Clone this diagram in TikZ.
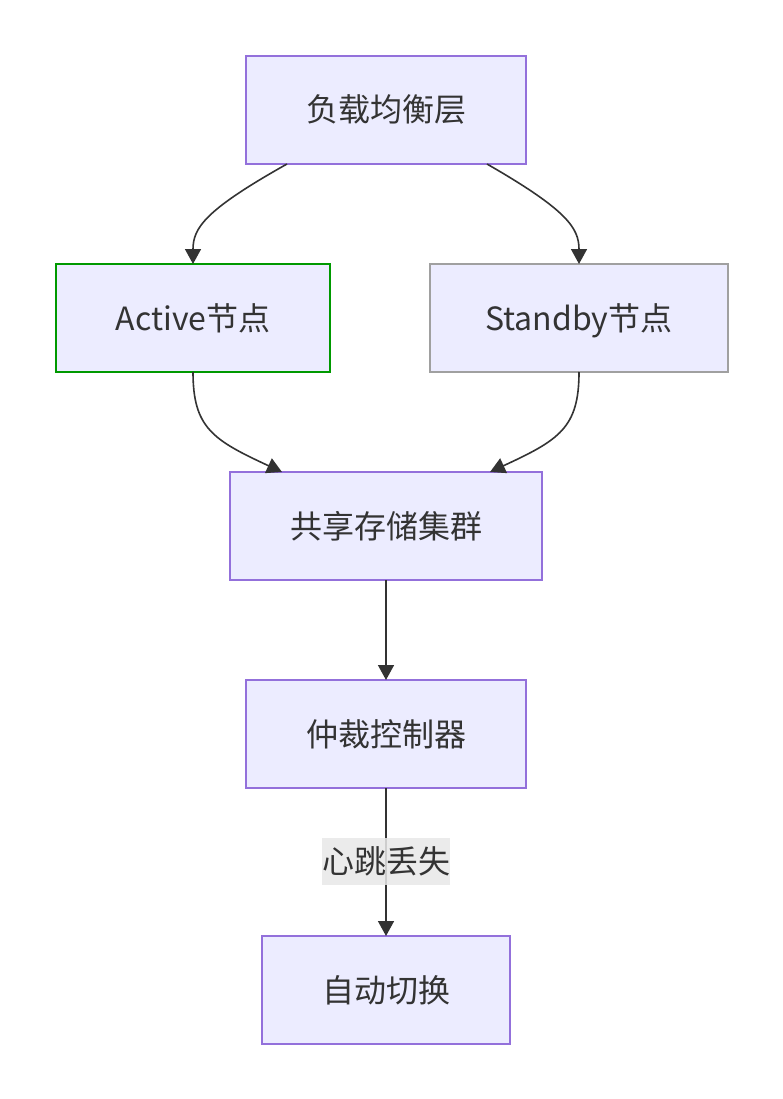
\documentclass[tikz,border=0pt]{standalone}
\usepackage{fontspec}
\setmainfont{Noto Sans CJK SC}
\usetikzlibrary{arrows.meta}
\definecolor{boxfill}{HTML}{ECECFF}
\definecolor{boxline}{HTML}{9370DB}
\definecolor{activeline}{HTML}{009900}
\definecolor{standbyline}{HTML}{A0A0A0}
\definecolor{edgecol}{HTML}{333333}
\definecolor{txt}{HTML}{333333}
\definecolor{lblbg}{HTML}{E8E8E8}
\begin{document}
\begin{tikzpicture}[x=1pt,y=-1pt,
  box/.style={draw=boxline, fill=boxfill, line width=1.6pt, minimum height=108pt,
    inner sep=0pt, outer sep=0pt, text=txt, font=\fontsize{32}{38}\selectfont,
    text height=24pt, text depth=0pt},
  conn/.style={draw=edgecol, line width=1.6pt, -{Triangle[length=15pt,width=16pt]}},
  lbl/.style={fill=lblbg, fill opacity=0.85, text opacity=1, text=txt, inner sep=0pt,
    minimum width=128pt, minimum height=47pt, font=\fontsize{32}{38}\selectfont,
    text height=24pt, text depth=0pt}]
\useasboundingbox (0,0) rectangle (783,1099);
\node[box, minimum width=280pt] (lb) at (386,110) {负载均衡层};
\node[box, minimum width=274pt, draw=activeline] (act) at (193,318) {Active节点};
\node[box, minimum width=298pt, draw=standbyline] (sb) at (579,318) {Standby节点};
\node[box, minimum width=312pt] (st) at (386,526) {共享存储集群};
\node[box, minimum width=280pt] (arb) at (386,734) {仲裁控制器};
\node[box, minimum width=248pt] (sw) at (386,990) {自动切换};

\coordinate (lbL) at ([xshift=41pt]lb.south west);
\coordinate (lbR) at ([xshift=-39pt]lb.south east);
\draw[conn] (lbL) .. controls (205,210) and (193,228) .. (act.north);
\draw[conn] (lbR) .. controls (567,210) and (579,228) .. (sb.north);
\coordinate (stL) at ([xshift=52pt]st.north west);
\coordinate (stR) at ([xshift=-52pt]st.north east);
\draw[conn] (act.south) .. controls (193,428) and (213,440) .. (stL);
\draw[conn] (sb.south) .. controls (579,428) and (559,440) .. (stR);
\draw[conn] (st.south) -- (arb.north);
\draw[conn] (arb.south) -- (sw.north);
\node[lbl] (hb) at (386,861) {心跳丢失};
\end{tikzpicture}
\end{document}
